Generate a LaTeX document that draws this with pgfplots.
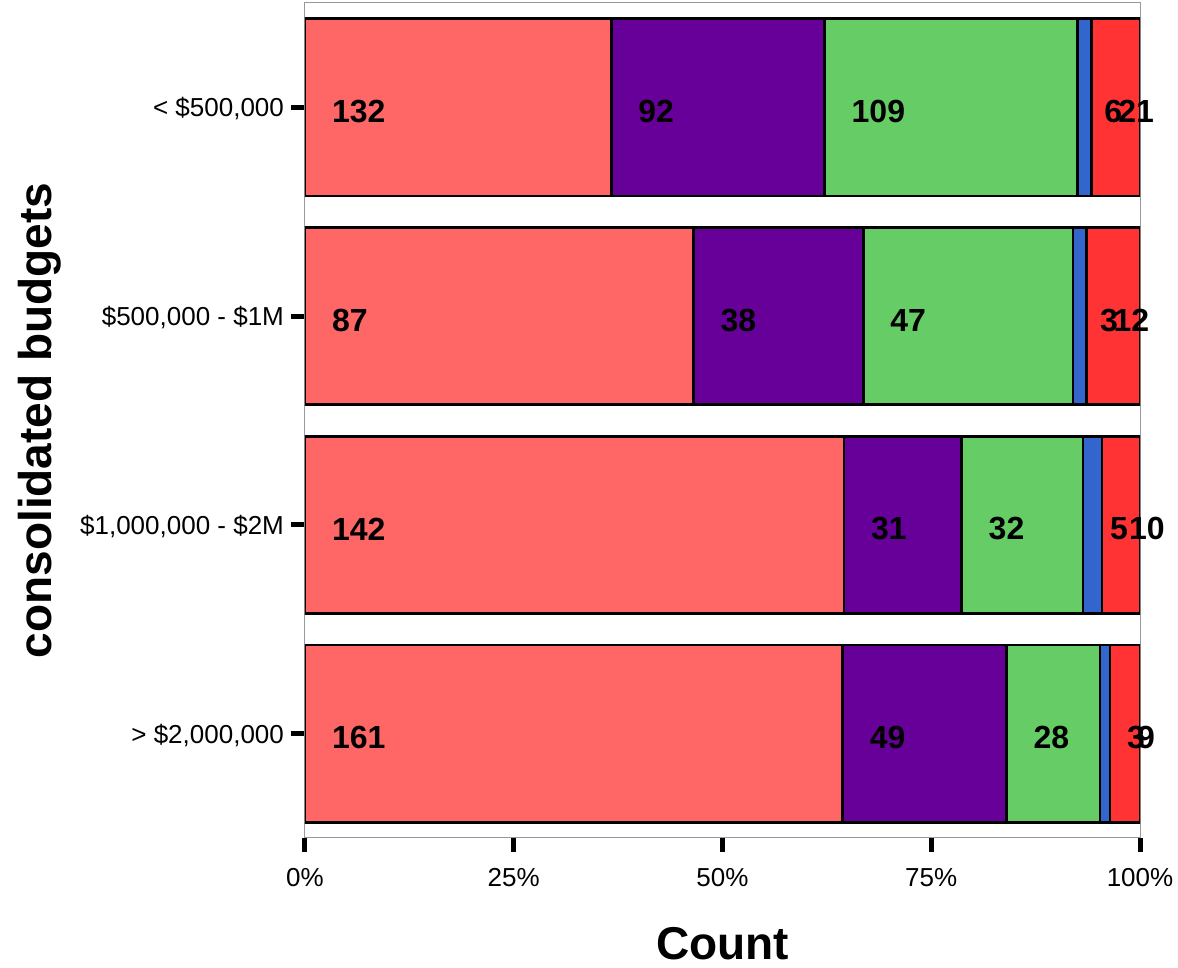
\documentclass[border=0pt]{standalone}
\usepackage{fontspec}
\setmainfont{Liberation Sans}
\usepackage{pgfplots}
\usepackage{pgfplotstable}
\pgfplotsset{compat=1.18}
\definecolor{c1}{HTML}{FF6666}
\definecolor{c2}{HTML}{660099}
\definecolor{c3}{HTML}{66CC66}
\definecolor{c4}{HTML}{3366CC}
\definecolor{c5}{HTML}{FF3333}
\pgfplotstableread{
idx a b c d e tot
4 132 92 109 6 21 360
3 87 38 47 3 12 187
2 142 31 32 5 10 220
1 161 49 28 3 9 250
}\datatable
\pgfplotsset{
  common/.style={at={(0pt,0pt)}, anchor=south west, scale only axis,
    width=417.5pt, height=417.5pt, xmin=0, xmax=100, ymin=0.5, ymax=4.5},
  seg/.style={draw=black, line width=1.4pt, fill=#1},
  lab/.style={draw=none, mark=none},
}
\begin{document}
\begin{tikzpicture}
\path[use as bounding box] (-152.5pt,-65pt) rectangle (436.5pt,419pt);
\begin{axis}[common,
  xbar stacked, bar width=0.85,
  ytick={1,2,3,4},
  yticklabels={{> \$2,000,000}, {\$1,000,000 - \$2M}, {\$500,000 - \$1M}, {< \$500,000}},
  xtick={0,25,50,75,100},
  xticklabels={0\%,25\%,50\%,75\%,100\%},
  tick align=outside, xtick pos=bottom, ytick pos=left,
  major tick length=7pt,
  every tick/.style={black, line width=2.5pt},
  axis line style={gray!80, line width=0.5pt},
  tick label style={font=\fontsize{13}{15}\selectfont},
  xticklabel style={yshift=-4.5pt},
  yticklabel style={yshift=-0.8pt},
  xlabel={Count}, ylabel={consolidated budgets},
  label style={font=\bfseries\fontsize{23}{27}\selectfont},
  xlabel style={at={(axis description cs:0.5,-0.126)}, anchor=center},
  ylabel style={at={(axis description cs:-0.3174,0.5)}, anchor=center},
]
\addplot[seg=c1] table[x expr=\thisrow{a}/\thisrow{tot}*100, y=idx]{\datatable};
\addplot[seg=c2] table[x expr=\thisrow{b}/\thisrow{tot}*100, y=idx]{\datatable};
\addplot[seg=c3] table[x expr=\thisrow{c}/\thisrow{tot}*100, y=idx]{\datatable};
\addplot[seg=c4] table[x expr=\thisrow{d}/\thisrow{tot}*100, y=idx]{\datatable};
\addplot[seg=c5] table[x expr=\thisrow{e}/\thisrow{tot}*100, y=idx]{\datatable};
\end{axis}
\begin{axis}[common, hide axis,
  nodes near coords, point meta=explicit symbolic,
  nodes near coords align=horizontal,
  nodes near coords style={anchor=west, inner xsep=0pt, text=black,
    font=\bfseries\fontsize{16}{19}\selectfont, yshift=-2pt},
]
\addplot[lab] table[x expr=3.2, y=idx, meta=a]{\datatable};
\addplot[lab] table[x expr=\thisrow{a}/\thisrow{tot}*100+3.2, y=idx, meta=b]{\datatable};
\addplot[lab] table[x expr=(\thisrow{a}+\thisrow{b})/\thisrow{tot}*100+3.2, y=idx, meta=c]{\datatable};
\addplot[lab] table[x expr=(\thisrow{a}+\thisrow{b}+\thisrow{c})/\thisrow{tot}*100+3.2, y=idx, meta=d]{\datatable};
\addplot[lab] table[x expr=(\thisrow{a}+\thisrow{b}+\thisrow{c}+\thisrow{d})/\thisrow{tot}*100+3.2, y=idx, meta=e]{\datatable};
\end{axis}
\end{tikzpicture}
\end{document}
